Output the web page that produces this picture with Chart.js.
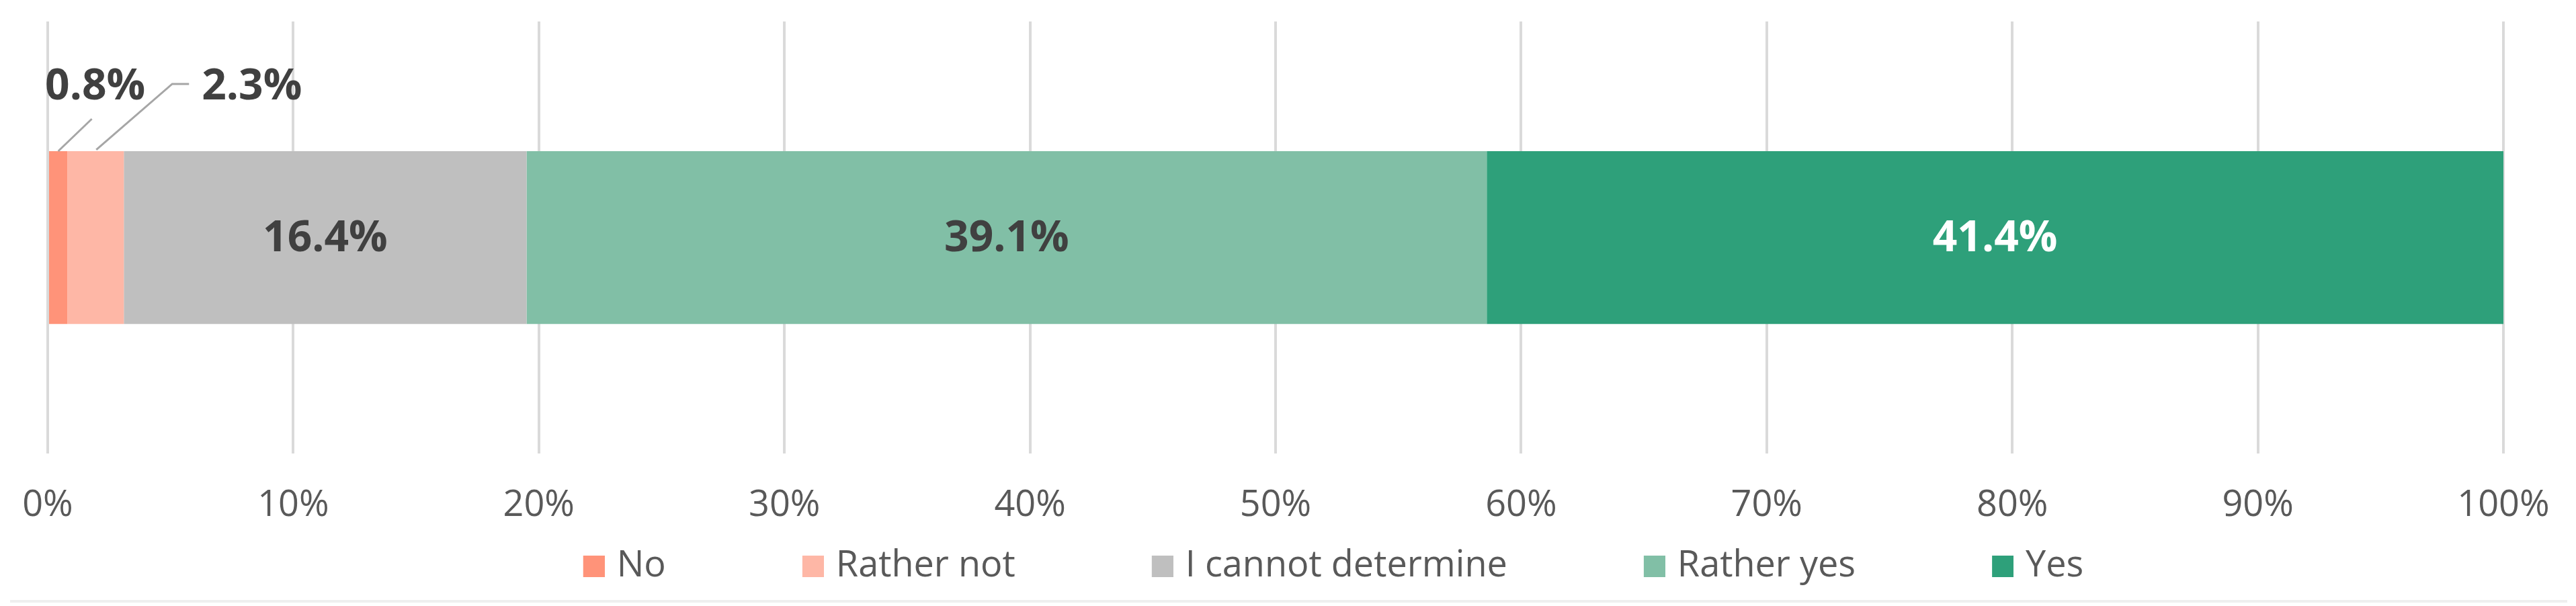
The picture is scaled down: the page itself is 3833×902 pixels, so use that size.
<!DOCTYPE html>
<html>
<head>
<meta charset="utf-8">
<script src="https://cdn.jsdelivr.net/npm/chart.js@4.4.1/dist/chart.umd.min.js"></script>
<style>
  html, body { margin: 0; padding: 0; background: #ffffff; }
  #wrap { position: relative; width: 3833px; height: 902px; }
  #frame { position: absolute; left: 15px; top: 893px; width: 3805px; height: 4px; background: #EFEFEF; }
</style>
</head>
<body>
<div id="wrap">
  <canvas id="c" width="3833" height="902"></canvas>
  <div id="frame"></div>
</div>
<script>
// ---- data ----
const categories = [''];
const seriesNames = ['No', 'Rather not', 'I cannot determine', 'Rather yes', 'Yes'];
const noValues = [0.8];
const ratherNotValues = [2.3];
const cannotDetermineValues = [16.4];
const ratherYesValues = [39.1];
const yesValues = [41.4];
const tickLabels = ['0%', '10%', '20%', '30%', '40%', '50%', '60%', '70%', '80%', '90%', '100%'];

// ---- styles ----
const seriesColors = ['#FF9379', '#FEB7A6', '#BFBFBF', '#81BFA6', '#2EA07A'];
const labelColors = ['#404040', '#404040', '#404040', '#404040', '#FFFFFF'];
const FONT = "'Open Sans', 'DejaVu Sans', sans-serif";
const LABEL_SIZE = 64;
const LEADER_COLOR = '#A6A6A6';
const LEADER_WIDTH = 3;
// callout offsets (relative to the bar's centre-top) for labels placed outside small segments
const CALLOUTS = {
  0: { line: [[0, 0], [50, -48]], text: [55, -95], align: 'center' },
  1: { line: [[1, -2], [114, -100], [139, -100]], text: [158, -95], align: 'left' }
};

Chart.defaults.font.family = FONT;

const seriesValues = [noValues, ratherNotValues, cannotDetermineValues, ratherYesValues, yesValues];

// legend swatch: square drawn at right side of a wider transparent canvas (controls spacing)
const SWATCH = 32, LEG_W = 195, OVER = 9;
function makeSwatch(color) {
  const cv = document.createElement('canvas');
  cv.width = LEG_W + 2 * OVER;
  cv.height = SWATCH;
  const g = cv.getContext('2d');
  g.fillStyle = color;
  g.fillRect(cv.width - SWATCH, 0, SWATCH, SWATCH);
  return cv;
}
const swatches = seriesColors.map(makeSwatch);

const labelPlugin = {
  id: 'barLabels',
  afterDatasetsDraw(chart) {
    const ctx = chart.ctx;
    ctx.save();
    ctx.font = 'bold ' + LABEL_SIZE + 'px ' + FONT;
    ctx.textBaseline = 'middle';
    chart.data.datasets.forEach((ds, i) => {
      const meta = chart.getDatasetMeta(i);
      meta.data.forEach((bar, j) => {
        const v = ds.data[j];
        const text = v.toFixed(1) + '%';
        const p = bar.getProps(['x', 'y', 'base', 'height'], true);
        const cx = (p.x + p.base) / 2;
        const co = CALLOUTS[i];
        if (!co) {
          ctx.fillStyle = labelColors[i];
          ctx.textAlign = 'center';
          ctx.fillText(text, cx, p.y + 2);
        } else {
          const top = p.y - p.height / 2;
          ctx.strokeStyle = LEADER_COLOR;
          ctx.lineWidth = LEADER_WIDTH;
          ctx.beginPath();
          co.line.forEach((pt, k) => {
            if (k === 0) ctx.moveTo(cx + pt[0], top + pt[1]);
            else ctx.lineTo(cx + pt[0], top + pt[1]);
          });
          ctx.stroke();
          ctx.fillStyle = labelColors[i];
          ctx.textAlign = co.align;
          ctx.fillText(text, cx + co.text[0], top + co.text[1]);
        }
      });
    });
    ctx.restore();
  }
};

new Chart(document.getElementById('c'), {
  type: 'bar',
  data: {
    labels: categories,
    datasets: seriesNames.map((name, i) => ({
      label: name,
      data: seriesValues[i],
      backgroundColor: seriesColors[i],
      borderWidth: 0,
      barPercentage: 0.4,
      categoryPercentage: 1.0
    }))
  },
  options: {
    indexAxis: 'y',
    responsive: false,
    devicePixelRatio: 1,
    animation: false,
    layout: { padding: { top: 32, left: 71, right: 108, bottom: 22 } },
    scales: {
      x: {
        stacked: true,
        min: 0,
        max: 100,
        ticks: {
          stepSize: 10,
          color: '#595959',
          font: { size: 54 },
          padding: 0,
          maxRotation: 0,
          autoSkip: false,
          callback: (v) => tickLabels[Math.round(v / 10)]
        },
        grid: { color: '#DADADA', lineWidth: 4, drawTicks: true, tickLength: 45, tickColor: 'rgba(0,0,0,0)' },
        border: { display: false }
      },
      y: { stacked: true, display: false }
    },
    plugins: {
      tooltip: { enabled: false },
      legend: {
        position: 'bottom',
        labels: {
          usePointStyle: true,
          pointStyleWidth: LEG_W,
          boxHeight: SWATCH,
          padding: 31,
          color: '#595959',
          font: { size: 54 },
          generateLabels(chart) {
            const items = Chart.defaults.plugins.legend.labels.generateLabels(chart);
            items.forEach((it, i) => { it.pointStyle = swatches[i]; });
            return items;
          }
        }
      }
    }
  },
  plugins: [labelPlugin]
});
</script>
</body>
</html>
